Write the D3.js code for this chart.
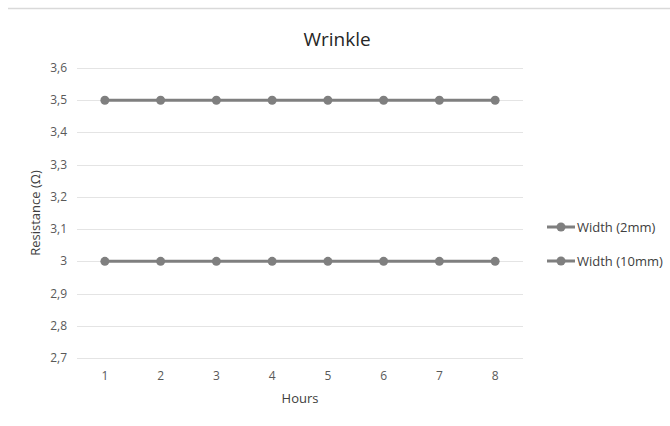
<!DOCTYPE html>
<html lang="en">
<head>
    <meta charset="UTF-8">
    <title>Wrinkle</title>
    <style>
        html,body{
            margin:0;
            height: 100%;
            overflow: hidden;
            background: #fff;
        }
        svg{ display: block; }
        text{ font-family: "Open Sans", "Liberation Sans", sans-serif; }
    </style>
</head>
<body>
    <svg id="svg"></svg>
    <script src="https://d3js.org/d3.v7.min.js"></script>
    <script>
        // data
        const hours = [1, 2, 3, 4, 5, 6, 7, 8];
        const width2mm = [3.5, 3.5, 3.5, 3.5, 3.5, 3.5, 3.5, 3.5];
        const width10mm = [3.0, 3.0, 3.0, 3.0, 3.0, 3.0, 3.0, 3.0];
        const seriesNames = ['Width (2mm)', 'Width (10mm)'];
        const yTicks = [2.7, 2.8, 2.9, 3.0, 3.1, 3.2, 3.3, 3.4, 3.5, 3.6];

        const series = [
            { name: seriesNames[0], values: width2mm },
            { name: seriesNames[1], values: width10mm }
        ];

        const width = 670, height = 426;
        const svg = d3.select('#svg').attr('width', width).attr('height', height);
        const margin = { top: 68, left: 77, bottom: 68, right: 147 };
        const lineColor = '#7f7f7f';

        // chart border top
        svg.append('line')
            .attr('x1', 8).attr('x2', width).attr('y1', 8.5).attr('y2', 8.5)
            .attr('stroke', '#d9d9d9').attr('stroke-width', 1.5);

        // scales in page coordinates, no group transforms
        const xScale = d3.scaleBand().domain(hours).range([margin.left, width - margin.right]);
        const yScale = d3.scaleLinear().domain([2.7, 3.6]).range([height - margin.bottom, margin.top]);
        const cx = d => xScale(d) + xScale.bandwidth() / 2;

        // gridlines
        svg.append('g').selectAll('line').data(yTicks).join('line')
            .attr('x1', margin.left).attr('x2', width - margin.right)
            .attr('y1', d => Math.round(yScale(d)) + 0.5)
            .attr('y2', d => Math.round(yScale(d)) + 0.5)
            .attr('stroke', '#e4e4e4').attr('stroke-width', 1);

        // y labels
        const fmt = d => d3.format('.1f')(d).replace('.', ',').replace(/^3,0$/, '3');
        svg.append('g').selectAll('text').data(yTicks).join('text')
            .attr('x', margin.left - 10).attr('y', d => yScale(d) + 4)
            .attr('text-anchor', 'end')
            .attr('font-size', 12).attr('fill', '#595959')
            .text(fmt);

        // x labels
        svg.append('g').selectAll('text').data(hours).join('text')
            .attr('x', cx)
            .attr('y', height - margin.bottom + 22)
            .attr('text-anchor', 'middle')
            .attr('font-size', 12).attr('fill', '#595959')
            .text(d => d);

        const line = d3.line()
            .x((d, i) => cx(hours[i]))
            .y(d => yScale(d));

        series.forEach(s => {
            svg.append('path').datum(s.values)
                .attr('d', line).attr('fill', 'none')
                .attr('stroke', lineColor).attr('stroke-width', 3);
            svg.append('g').selectAll('circle').data(s.values).join('circle')
                .attr('cx', (d, i) => cx(hours[i]))
                .attr('cy', d => yScale(d))
                .attr('r', 4.5).attr('fill', lineColor);
        });

        // title
        svg.append('text').attr('x', 337).attr('y', 46)
            .attr('text-anchor', 'middle').attr('font-size', 19).attr('fill', '#262626')
            .text('Wrinkle');

        // axis titles
        svg.append('text').attr('x', (margin.left + width - margin.right) / 2).attr('y', 403)
            .attr('text-anchor', 'middle').attr('font-size', 13).attr('fill', '#404040')
            .text('Hours');
        const yMid = (margin.top + height - margin.bottom) / 2;
        svg.append('text')
            .attr('x', 40).attr('y', yMid)
            .attr('transform', `rotate(-90,40,${yMid})`)
            .attr('text-anchor', 'middle').attr('font-size', 13).attr('fill', '#404040')
            .text('Resistance (Ω)');

        // legend
        const legY = i => 227 + i * 34;
        svg.append('g').selectAll('line').data(series).join('line')
            .attr('x1', 547).attr('x2', 575)
            .attr('y1', (d, i) => legY(i)).attr('y2', (d, i) => legY(i))
            .attr('stroke', lineColor).attr('stroke-width', 3);
        svg.append('g').selectAll('circle').data(series).join('circle')
            .attr('cx', 561).attr('cy', (d, i) => legY(i))
            .attr('r', 4.5).attr('fill', lineColor);
        svg.append('g').selectAll('text').data(series).join('text')
            .attr('x', 577).attr('y', (d, i) => legY(i) + 4.5)
            .attr('font-size', 13).attr('fill', '#404040')
            .text(d => d.name);
    </script>
</body>
</html>
